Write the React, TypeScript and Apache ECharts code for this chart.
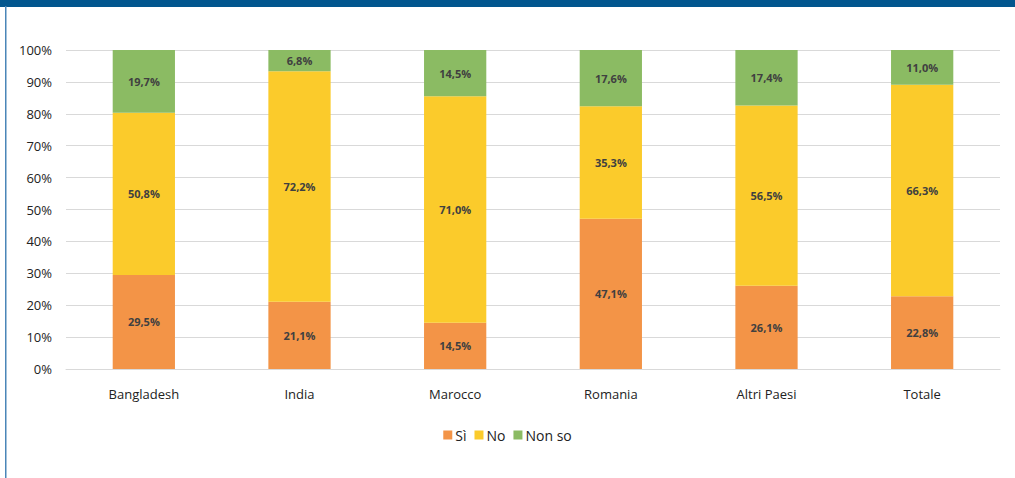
import React, { useEffect, useRef } from "react";
import * as echarts from "echarts";

const categories = ["Bangladesh", "India", "Marocco", "Romania", "Altri Paesi", "Totale"];
const si = [29.5, 21.1, 14.5, 47.1, 26.1, 22.8];
const no = [50.8, 72.2, 71.0, 35.3, 56.5, 66.3];
const nonSo = [19.7, 6.8, 14.5, 17.6, 17.4, 11.0];
const seriesNames = ["Sì", "No", "Non so"];
const colors = ["#F39447", "#FBCB2B", "#8BBB63"];

const fmt = (v: number) => v.toFixed(1).replace(".", ",") + "%";

export default function App() {
  const ref = useRef<HTMLDivElement>(null);
  useEffect(() => {
    const chart = echarts.init(ref.current!, null, { renderer: "svg" });
    const font = "'Open Sans', 'Liberation Sans', sans-serif";
    const mk = (name: string, data: number[], color: string) => ({
      name,
      type: "bar",
      stack: "total",
      data,
      barWidth: "40%",
      itemStyle: { color },
      label: {
        show: true,
        position: "inside",
        formatter: (p: any) => fmt(p.value),
        color: "#404040",
        fontWeight: "bold",
        fontSize: 11,
        fontFamily: font,
      },
    });
    chart.setOption({
      animation: false,
      backgroundColor: "#fff",
      graphic: [
        { type: "rect", left: 0, top: 0, shape: { width: 1015, height: 7 }, style: { fill: "#02568E" } },
        { type: "rect", left: 5, top: 6, shape: { width: 1.5, height: 472 }, style: { fill: "#4A86B8" } },
      ],
      grid: { left: 66, right: 15, top: 50, bottom: 109 },
      legend: {
        bottom: 31,
        left: "center",
        itemWidth: 9,
        itemHeight: 9,
        itemGap: 8,
        icon: "rect",
        textStyle: { fontSize: 14, color: "#222", fontFamily: font, padding: [0, 0, 0, -2] },
        data: seriesNames,
      },
      xAxis: {
        type: "category",
        data: categories,
        axisLine: { lineStyle: { color: "#d9d9d9" } },
        axisTick: { show: false },
        axisLabel: { color: "#222", fontSize: 13, margin: 18, fontFamily: font },
      },
      yAxis: {
        type: "value",
        min: 0,
        max: 100,
        interval: 10,
        axisLabel: { formatter: "{value}%", color: "#222", fontSize: 13, margin: 14, fontFamily: font },
        splitLine: { lineStyle: { color: "#d9d9d9", width: 1 } },
        axisLine: { show: false },
        axisTick: { show: false },
      },
      series: [
        mk(seriesNames[0], si, colors[0]),
        mk(seriesNames[1], no, colors[1]),
        mk(seriesNames[2], nonSo, colors[2]),
      ],
    });
    return () => chart.dispose();
  }, []);
  return (
    <div
      ref={ref}
      style={{ position: "fixed", left: 0, top: 0, width: 1015, height: 478 }}
    />
  );
}
